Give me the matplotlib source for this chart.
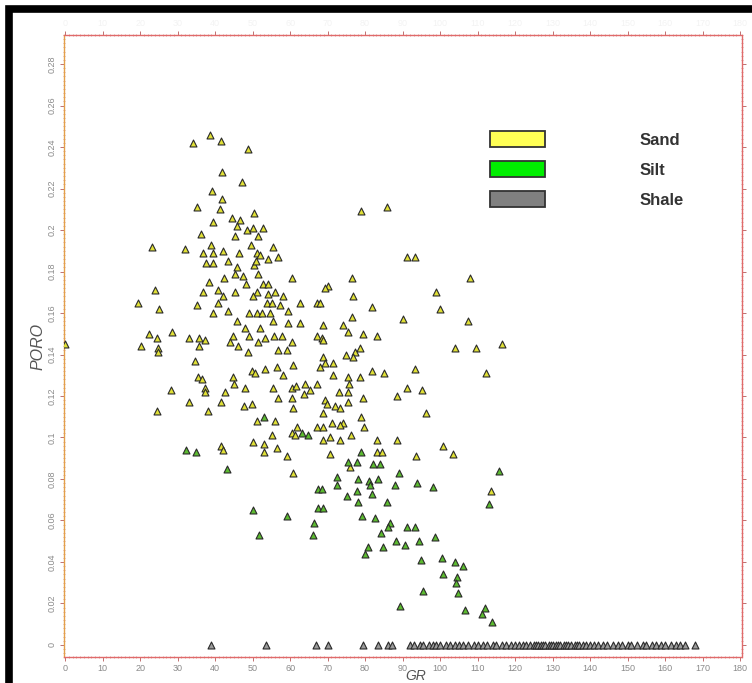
import numpy as np
import matplotlib
matplotlib.use("Agg")
import matplotlib.pyplot as plt
from matplotlib.patches import Rectangle, Patch
from matplotlib.ticker import MultipleLocator, FuncFormatter

# GR / PORO pairs
sand_points = [
    (38.7, 0.246), (34.1, 0.242), (41.6, 0.243), (48.8, 0.239), (41.9, 0.228),
    (47.2, 0.223), (39.2, 0.219), (41.9, 0.215), (35.2, 0.211), (41.3, 0.210),
    (50.4, 0.208), (44.5, 0.206), (46.7, 0.205), (39.5, 0.204), (45.9, 0.202),
    (48.5, 0.200), (50.1, 0.201), (52.8, 0.201), (51.5, 0.197), (45.3, 0.197),
    (36.3, 0.198), (23.2, 0.192), (32.0, 0.191), (38.9, 0.193), (36.8, 0.189),
    (39.5, 0.189), (42.1, 0.190), (46.4, 0.189), (49.6, 0.193), (51.2, 0.189),
    (52.0, 0.188), (55.5, 0.192), (54.1, 0.186), (56.8, 0.187), (37.6, 0.184),
    (39.5, 0.184), (43.5, 0.185), (45.9, 0.182), (50.4, 0.183), (50.9, 0.185),
    (51.5, 0.179), (45.3, 0.179), (47.5, 0.178), (42.4, 0.177), (38.4, 0.175),
    (48.3, 0.174), (52.8, 0.174), (54.1, 0.174), (60.5, 0.177), (24.0, 0.171),
    (36.8, 0.170), (40.8, 0.171), (42.1, 0.168), (45.3, 0.170), (51.2, 0.170),
    (50.1, 0.168), (54.1, 0.169), (56.0, 0.170), (58.1, 0.168), (53.9, 0.165),
    (55.2, 0.165), (57.3, 0.164), (19.5, 0.165), (25.1, 0.162), (35.2, 0.164),
    (40.8, 0.165), (62.7, 0.165), (67.2, 0.165), (39.5, 0.160), (43.5, 0.161),
    (49.1, 0.160), (51.2, 0.160), (52.5, 0.160), (54.7, 0.160), (59.5, 0.161),
    (45.9, 0.156), (48.0, 0.153), (52.0, 0.153), (55.5, 0.156), (59.5, 0.155),
    (62.7, 0.155), (22.4, 0.150), (24.5, 0.148), (28.5, 0.151), (33.1, 0.148),
    (35.7, 0.148), (37.3, 0.147), (44.8, 0.149), (49.1, 0.149), (53.3, 0.148),
    (55.7, 0.149), (57.9, 0.149), (60.5, 0.146), (67.2, 0.149), (20.3, 0.144),
    (24.8, 0.143), (24.8, 0.141), (35.7, 0.144), (44.0, 0.146), (46.1, 0.144),
    (51.5, 0.146), (56.8, 0.142), (59.2, 0.142), (48.8, 0.141), (34.7, 0.137),
    (35.5, 0.129), (49.9, 0.132), (50.7, 0.131), (53.3, 0.133), (56.5, 0.134),
    (60.8, 0.135), (58.1, 0.130), (44.8, 0.129),
    (78.9, 0.209), (85.9, 0.211), (91.2, 0.187), (93.3, 0.187), (76.5, 0.177),
    (108.0, 0.177), (70.1, 0.173), (69.3, 0.172), (76.8, 0.168), (98.9, 0.170),
    (68.0, 0.165), (81.9, 0.163), (100.0, 0.162), (76.5, 0.158), (90.1, 0.157),
    (107.5, 0.156), (68.8, 0.154), (74.1, 0.154), (75.5, 0.151), (79.5, 0.150),
    (83.2, 0.149), (68.5, 0.148), (68.8, 0.147), (78.7, 0.143), (77.3, 0.141),
    (74.9, 0.140), (76.8, 0.139), (104.0, 0.143), (109.6, 0.143), (116.5, 0.145),
    (68.8, 0.139), (69.3, 0.136), (71.5, 0.136), (68.0, 0.134), (93.3, 0.133),
    (81.9, 0.132), (85.1, 0.131), (112.3, 0.131), (71.5, 0.130), (75.5, 0.129),
    (78.7, 0.129),
    (28.3, 0.123), (24.5, 0.113), (33.1, 0.117), (36.5, 0.128), (37.3, 0.124),
    (37.3, 0.122), (38.1, 0.113), (41.6, 0.117), (42.7, 0.122), (45.1, 0.126),
    (48.0, 0.124), (47.7, 0.115), (49.9, 0.116), (51.2, 0.108), (56.0, 0.108),
    (55.5, 0.124), (56.8, 0.119), (60.5, 0.119), (60.8, 0.114), (60.5, 0.124),
    (61.6, 0.125), (63.7, 0.121), (64.0, 0.126), (65.3, 0.123), (67.2, 0.126),
    (61.9, 0.105), (60.5, 0.102), (61.3, 0.101), (67.2, 0.105), (55.2, 0.101),
    (50.1, 0.098), (53.1, 0.097), (53.1, 0.093), (56.5, 0.095), (59.2, 0.091),
    (60.8, 0.083), (41.6, 0.096), (42.1, 0.094),
    (91.2, 0.124), (95.2, 0.123), (88.5, 0.120), (96.3, 0.112), (73.1, 0.122),
    (75.5, 0.122), (75.7, 0.126), (79.5, 0.119), (75.5, 0.117), (69.3, 0.118),
    (69.9, 0.116), (72.0, 0.115), (73.3, 0.114), (68.8, 0.112), (78.9, 0.110),
    (79.7, 0.105), (74.1, 0.107), (73.3, 0.106), (71.2, 0.107), (68.8, 0.105),
    (76.3, 0.101), (73.3, 0.099), (70.7, 0.100), (68.8, 0.099), (83.2, 0.099),
    (88.5, 0.099), (70.7, 0.092), (83.2, 0.093), (84.5, 0.093), (76.0, 0.086),
    (93.6, 0.091), (100.8, 0.096), (103.5, 0.092), (113.6, 0.074),
    (0.0, 0.145),
]

silt_points = [
    (53.1, 0.110), (63.2, 0.102), (64.8, 0.101), (32.3, 0.094), (34.9, 0.093),
    (43.2, 0.085), (50.1, 0.065), (59.2, 0.062), (51.7, 0.053), (66.4, 0.059),
    (66.1, 0.053), (67.5, 0.066), (67.5, 0.075), (78.9, 0.093), (75.5, 0.088),
    (77.9, 0.088), (82.1, 0.087), (84.0, 0.087), (89.1, 0.083), (115.7, 0.084),
    (72.5, 0.081), (78.1, 0.080), (81.1, 0.079), (81.3, 0.077), (83.5, 0.080),
    (88.0, 0.077), (93.9, 0.078), (98.1, 0.076), (72.5, 0.077), (75.2, 0.072),
    (77.9, 0.074), (81.9, 0.073), (85.9, 0.069), (78.1, 0.069), (68.5, 0.075),
    (68.8, 0.066), (113.1, 0.068), (79.2, 0.062), (82.7, 0.061), (86.7, 0.059),
    (86.1, 0.057), (91.2, 0.057), (93.3, 0.057), (84.3, 0.054), (98.7, 0.052),
    (88.3, 0.050), (94.4, 0.050), (90.7, 0.048), (80.8, 0.047), (84.8, 0.047),
    (80.0, 0.044), (94.9, 0.041), (100.5, 0.042), (104.0, 0.040), (106.1, 0.038),
    (100.8, 0.034), (104.5, 0.033), (104.3, 0.030), (95.5, 0.026), (104.8, 0.025),
    (89.3, 0.019), (106.7, 0.017), (112.0, 0.018), (111.2, 0.015), (113.9, 0.011),
]

# shale samples all sit on PORO = 0
shale_gr = [
    38.9, 53.6, 66.9, 70.1, 79.5, 83.5, 86.1, 87.2,
    92, 93, 94.5, 95.5, 97, 98, 99, 100, 101.5, 102.5, 104, 105, 106, 107.5,
    109, 110, 111.5, 112.5, 114, 115, 116.5, 117.5, 119, 120, 121, 122, 123,
    124, 125, 125.5, 126, 127, 127.5, 128, 129, 129.5, 130, 131, 131.5, 132,
    133, 133.5, 134, 135, 136, 136.5, 137, 138, 139, 140, 141, 142, 143.5,
    144.5, 146, 147.5,
    148.5, 150, 151, 152.5, 154, 155, 156.5, 157.5, 159, 160, 161.5, 163, 164,
    165.3, 168,
]
shale_poro = [0.0] * len(shale_gr)

facies = ["Sand", "Silt", "Shale"]
legend_colors = ["#ffff55", "#00ee00", "#808080"]
marker_colors = ["#e0e036", "#5cbb30", "#9a9a9a"]

W, H = 752, 683
fig = plt.figure(figsize=(W / 100, H / 100), dpi=100)
ax = fig.add_axes([64 / W, 1 - 657 / H, (742 - 64) / W, (657 - 35) / H])

sand = np.array(sand_points)
silt = np.array(silt_points)
for (x, y), fc in zip([(sand[:, 0], sand[:, 1]), (silt[:, 0], silt[:, 1]),
                       (shale_gr, shale_poro)], marker_colors):
    ax.scatter(x, y, marker="^", s=25, facecolor=fc, edgecolor="#2a2a2a",
               linewidth=0.8, zorder=3)

ax.set_xlim(-0.3, 180.5)
ax.set_ylim(-0.0058, 0.294)

ax.xaxis.set_major_locator(MultipleLocator(10))
ax.xaxis.set_minor_locator(MultipleLocator(1))
ax.yaxis.set_major_locator(MultipleLocator(0.02))
ax.yaxis.set_minor_locator(MultipleLocator(0.002))
ax.yaxis.set_major_formatter(FuncFormatter(lambda v, p: "%g" % round(v, 3)))

for side in ["top", "right", "bottom"]:
    ax.spines[side].set_color("#e06a6a")
    ax.spines[side].set_linestyle((0, (2, 1)))
    ax.spines[side].set_linewidth(1.0)
ax.spines["left"].set_color("#e3a04a")
ax.spines["left"].set_linewidth(1.0)

ax.tick_params(which="major", direction="out", length=3, width=0.7,
               color="#c07070", labelcolor="#8a8a8a", labelsize=6.5,
               top=True, right=True)
ax.tick_params(which="minor", direction="inout", length=2, width=0.5,
               color="#d08080", top=True, right=True)
ax.tick_params(axis="x", labeltop=True, pad=2)
ax.tick_params(axis="y", labelrotation=90, pad=2)
for lab in ax.get_xticklabels() + ax.get_yticklabels():
    lab.set_fontfamily("Liberation Sans")
for lab in ax.get_yticklabels():
    lab.set_va("center")
# barely visible copies of the labels above the frame
for t in ax.xaxis.get_major_ticks():
    t.label2.set_color("#f3f3f3")

ax.set_xlabel("GR", fontsize=10, style="italic", color="#555555",
              family="Liberation Sans", va="bottom")
ax.xaxis.set_label_coords((416 - 64) / 678, (657 - 683) / 622)
ax.set_ylabel("PORO", fontsize=11.5, style="italic", color="#555555",
              family="Liberation Sans", labelpad=2)

handles = [Patch(facecolor=c, edgecolor="#333333", linewidth=1.3) for c in legend_colors]
leg = fig.legend(handles, facies, loc="upper left",
                 bbox_to_anchor=(490 / W, 1 - 131 / H), bbox_transform=fig.transFigure,
                 frameon=False, borderpad=0, borderaxespad=0,
                 handlelength=3.3, handleheight=1.1, handletextpad=5.7,
                 labelspacing=0.8,
                 prop={"family": "Liberation Sans", "weight": "bold", "size": 12})
for t in leg.get_texts():
    t.set_color("#333333")

# heavy black frame (only its top and left edges fall inside the picture)
fig.patches.append(Rectangle((9 / W, -1), 2, 2 - 9 / H, transform=fig.transFigure,
                             fill=False, edgecolor="black", linewidth=5.5))

fig.savefig("out.png", dpi=100)
